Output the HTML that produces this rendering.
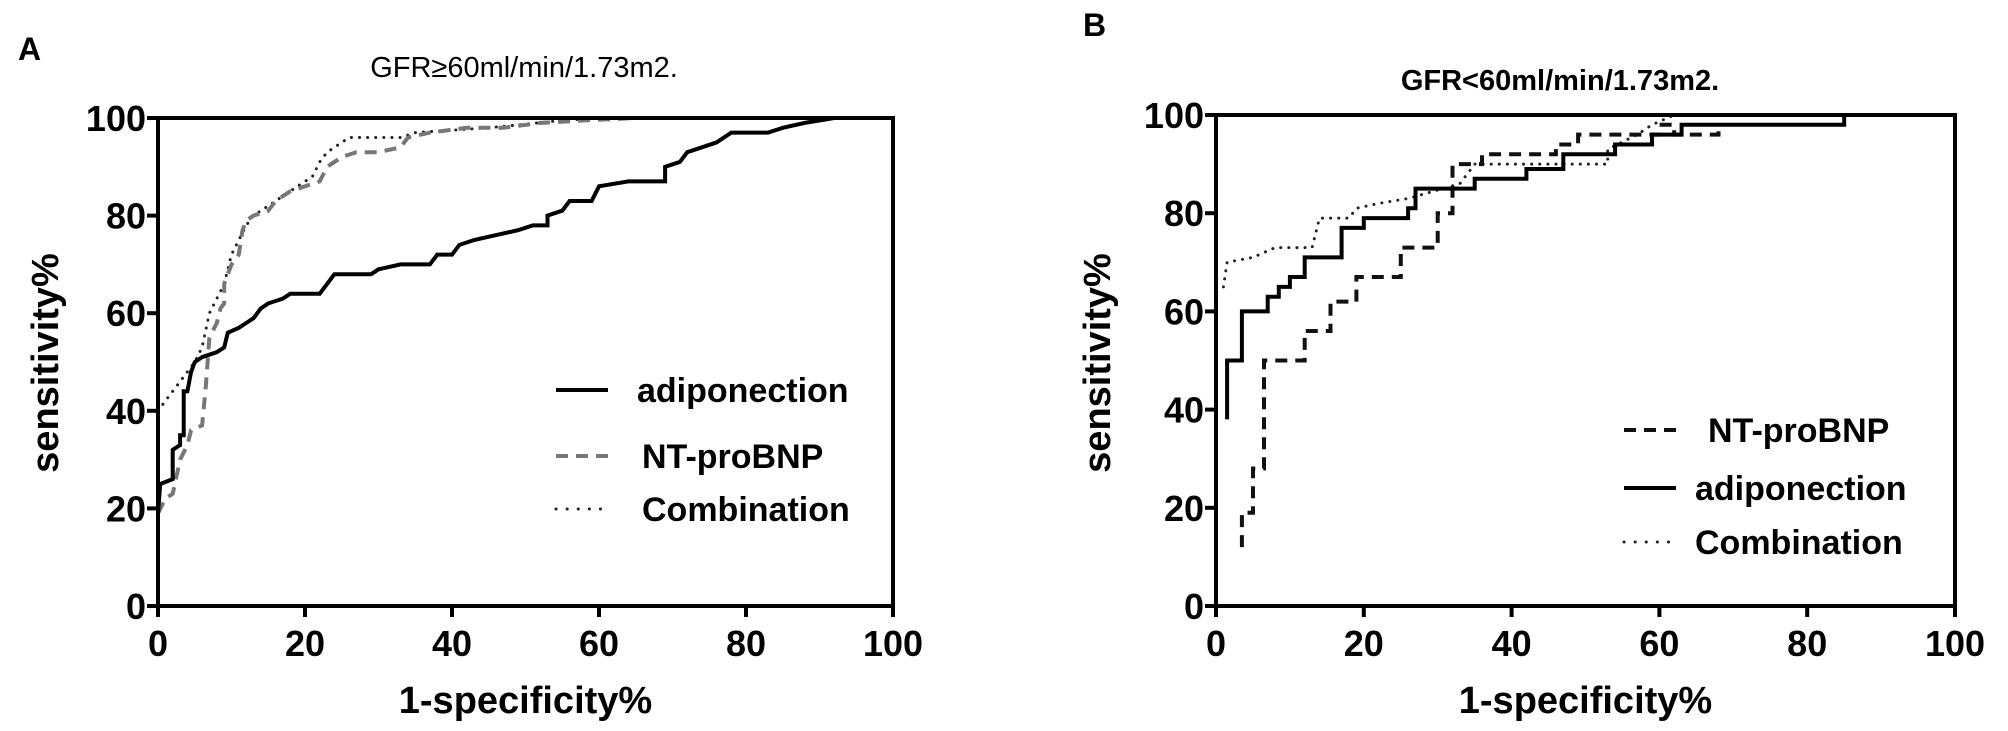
<!DOCTYPE html>
<html><head><meta charset="utf-8"><style>
html,body{margin:0;padding:0;background:#fff;}
svg{display:block;font-family:"Liberation Sans",Arial,sans-serif;}
</style></head><body>
<svg id="fig" width="2008" height="731" viewBox="0 0 2008 731"></svg>
<script>
// ---- Panel A data ----
const ticksX = [0,20,40,60,80,100];
const ticksY = [0,20,40,60,80,100];
const aAdipoX = [0,0.3,2,2,3,3,3.5,3.5,4,4.5,5,6,8,9,9.5,11,12,13,14,15,17,18,22,23,24,29,30,33,37,38,40,41,43,46,49,51,53,53,55,56,59,60,64,69,69,71,72,74,76,78,83,85,88,92,100];
const aAdipoY = [19,25,26,32,33,35,35,44,44,48,50,51,52,53,56,57,58,59,61,62,63,64,64,66,68,68,69,70,70,72,72,74,75,76,77,78,78,80,81,83,83,86,87,87,90,91,93,94,95,97,97,98,99,100,100];
const aNtX = [0,1,2,3,4,4.5,6,6.5,7,8,8.5,9,9,10,11,11.5,12,13,15,16,18,20,22,23,25,27,30,33,34,37,42,47,52,58,65,100];
const aNtY = [19,22,23,30,33,36,37,45,55,58,61,62,66,70,72,77,79,80,81,83,85,86,87,90,92,93,93,94,96,97,98,98,99,99.5,100,100];
const aCombX = [0,1,2,3,4,5,6,7,8,9,10,11,12,13,15,17,19,21,22,23,25,26,30,33,35,45,55,60,100];
const aCombY = [40,42,44,46,48,50,53,60,63,66,72,75,78,80,82,84,86,88,91,93,95,96,96,96,97,98,99.5,100,100];
// ---- Panel B data ----
const bNtX = [3.5,3.5,5,5,6.5,6.5,12,12,15.5,15.5,19,19,25,25,30,30,32,32,36,36,46,46,49,49,60,60,62,62,68,68];
const bNtY = [12,19,19,28,28,50,50,56,56,62,62,67,67,73,73,80,80,90,90,92,92,94,94,96,96,98,98,96,96,98];
const bAdipoX = [1.5,1.5,3.5,3.5,7,7,8.5,8.5,10,10,12,12,17,17,20,20,26,26,27,27,35,35,42,42,47,47,54,54,59,59,63,63,85,85,100];
const bAdipoY = [38,50,50,60,60,63,63,65,65,67,67,71,71,77,77,79,79,81,81,85,85,87,87,89,89,92,92,94,94,96,96,98,98,100,100];
const bCombX = [1,1.5,5,8,13,14,18,19,22,26,33,34,35,45,48,53,53,57,59,62,100];
const bCombY = [65,70,71,73,73,79,79,81,82,83,86,88,90,90,90,90,93,96,98,100,100];

const NS="http://www.w3.org/2000/svg";
const svg=document.getElementById('fig');
function mk(tag,attrs,parent){const e=document.createElementNS(NS,tag);for(const k in attrs)e.setAttribute(k,attrs[k]);(parent||svg).appendChild(e);return e;}
function txt(s,attrs,parent){const e=mk('text',attrs,parent);e.textContent=s;return e;}

function panel(p){
  const g=mk('g',{});
  
  
  const sx=v=>p.x0+(p.x1-p.x0)*v/100;
  const sy=v=>p.y0-(p.y0-p.y1)*v/100;
  // series
  p.series.forEach(s=>{
    const pts=s.xs.map((x,i)=>sx(x).toFixed(1)+','+sy(s.ys[i]).toFixed(1)).join(' ');
    const pl=mk('polyline',{points:pts,fill:'none',stroke:s.color,'stroke-width':s.w,'stroke-dasharray':s.dash||'none','stroke-linecap':s.cap||'butt','stroke-linejoin':'miter'},g);
    
    
  });
  // frame
  const fr=mk('rect',{x:p.x0,y:p.y1,width:p.x1-p.x0,height:p.y0-p.y1,fill:'none',stroke:'#000','stroke-width':4},g);
  
  
  ticksX.forEach(t=>{
    mk('line',{x1:sx(t),x2:sx(t),y1:p.y0,y2:p.y0+11,stroke:'#000','stroke-width':4},g);
    const l=txt(t,{x:sx(t),y:p.y0+50,'text-anchor':'middle','font-size':36,'font-weight':'bold'},g);
    
    
  });
  ticksY.forEach(t=>{
    mk('line',{x1:p.x0-11,x2:p.x0,y1:sy(t),y2:sy(t),stroke:'#000','stroke-width':4},g);
    const l=txt(t,{x:p.x0-12,y:sy(t)+13,'text-anchor':'end','font-size':36,'font-weight':'bold'},g);
    
    
  });
  const xt=txt('1-specificity%',{x:(p.x0+p.x1)/2,y:713,'text-anchor':'middle','font-size':38,'font-weight':'bold'},g);
  
  
  const yt=txt('sensitivity%',{x:0,y:0,'text-anchor':'middle','font-size':38,'font-weight':'bold',transform:'translate('+(p.yLabX)+',363) rotate(-90)'},g);
  
  
  const ti=txt(p.title,{x:p.titleX,y:p.titleY,'text-anchor':'middle','font-size':29,'font-weight':p.titleBold?'bold':'normal'},g);
  
  
  const le=txt(p.letter,{x:p.letterX,y:p.letterY,'font-size':32,'font-weight':'bold'},g);
  
  
  p.legend.forEach(L=>{
    const lg=mk('g',{},g);
    
    
    mk('line',{x1:L.lx,x2:L.lx+52,y1:L.y,y2:L.y,stroke:L.color,'stroke-width':L.w,'stroke-dasharray':L.dash||'none','stroke-linecap':L.cap||'butt'},lg);
    txt(L.label,{x:L.tx,y:L.y+12,'font-size':34,'font-weight':'bold'},lg);
  });
}

panel({name:'panel-a',x0:158,x1:893,y0:606,y1:118,yLabX:58,
  title:'GFR\u226560ml/min/1.73m2.',titleX:524,titleY:77,titleBold:false,letter:'A',letterX:18,letterY:60,
  series:[
    {name:'combination-line',xs:aCombX,ys:aCombY,color:'#222',w:3,dash:'0.1 8',cap:'round'},
    {name:'nt-probnp-line',xs:aNtX,ys:aNtY,color:'#777',w:4,dash:'12 8'},
    {name:'adiponection-line',xs:aAdipoX,ys:aAdipoY,color:'#000',w:4}
  ],
  legend:[
    {label:'adiponection',lx:556,tx:637,y:390,color:'#000',w:4},
    {label:'NT-proBNP',lx:556,tx:642,y:456,color:'#777',w:4,dash:'12 8'},
    {label:'Combination',lx:556,tx:642,y:509,color:'#222',w:3,dash:'0.1 11',cap:'round'}
  ]});

panel({name:'panel-b',x0:1216,x1:1955,y0:606,y1:115,yLabX:1110,
  title:'GFR<60ml/min/1.73m2.',titleX:1560,titleY:90,titleBold:true,letter:'B',letterX:1083,letterY:36,
  series:[
    {name:'combination-line',xs:bCombX,ys:bCombY,color:'#222',w:3,dash:'0.1 8',cap:'round'},
    {name:'nt-probnp-line',xs:bNtX,ys:bNtY,color:'#111',w:4,dash:'12 8'},
    {name:'adiponection-line',xs:bAdipoX,ys:bAdipoY,color:'#000',w:4}
  ],
  legend:[
    {label:'NT-proBNP',lx:1624,tx:1708,y:430,color:'#111',w:4,dash:'12 8'},
    {label:'adiponection',lx:1624,tx:1695,y:488,color:'#000',w:4},
    {label:'Combination',lx:1624,tx:1695,y:542,color:'#222',w:3,dash:'0.1 11',cap:'round'}
  ]});
</script>
</body></html>
